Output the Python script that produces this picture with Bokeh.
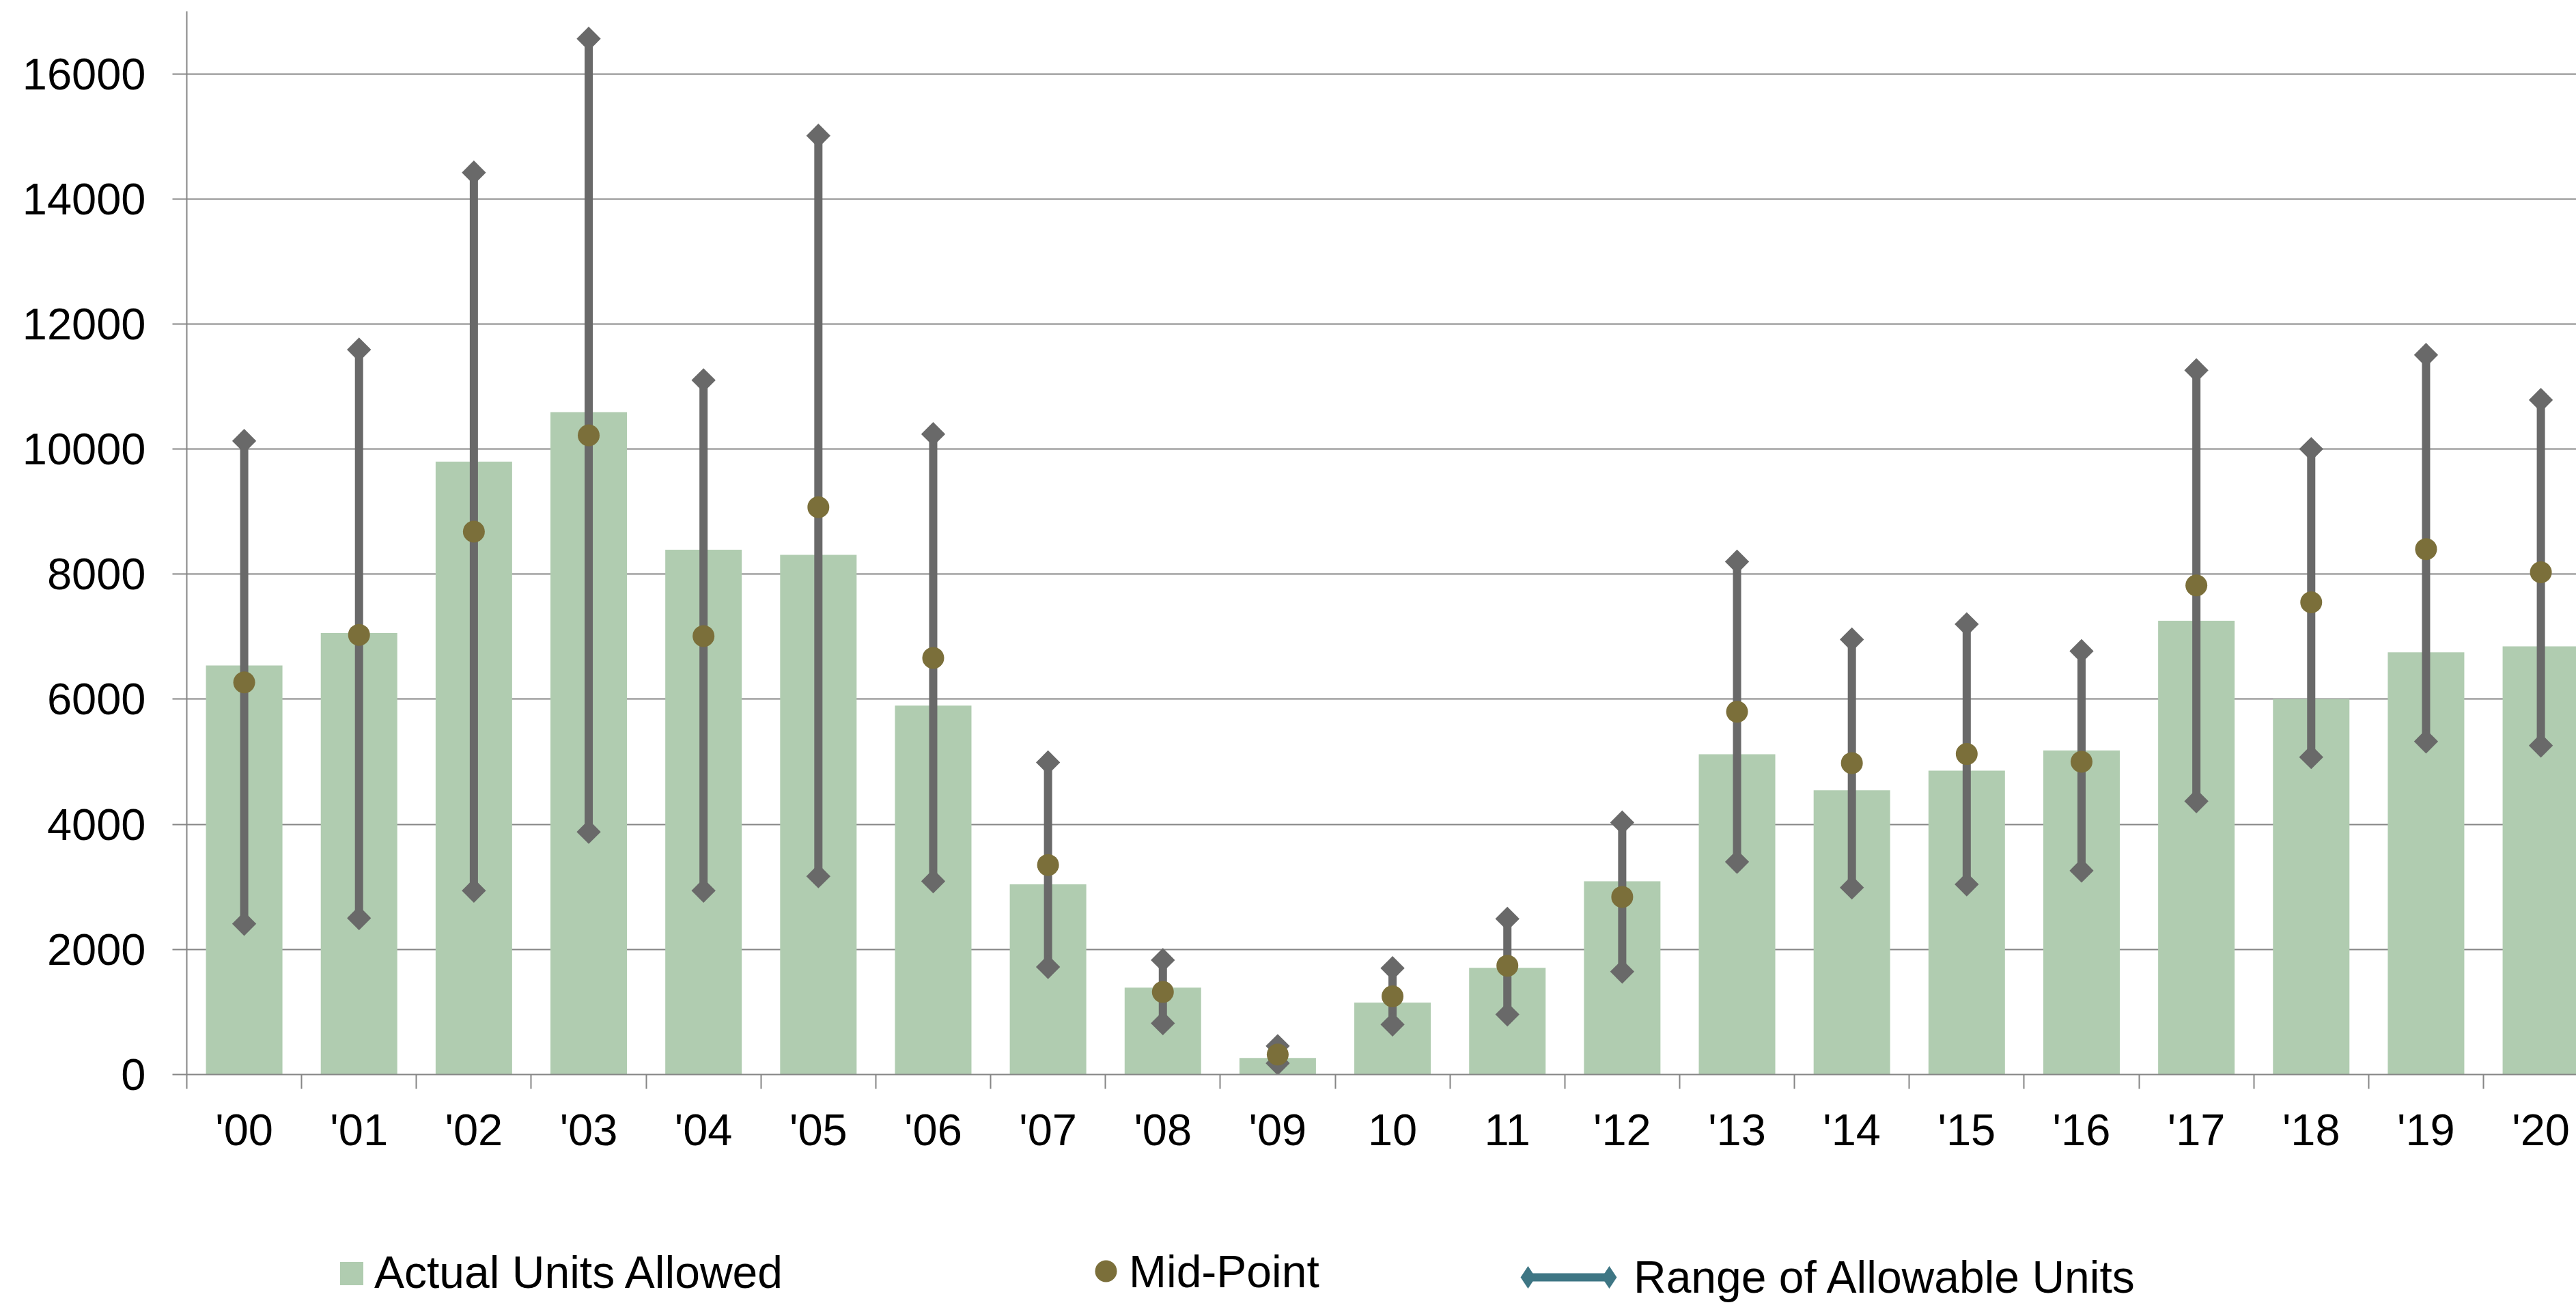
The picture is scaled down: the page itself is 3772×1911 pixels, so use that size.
import numpy as np
from bokeh.plotting import figure
from bokeh.layouts import column
from bokeh.models import Range1d, FixedTicker, Legend, LegendItem, ColumnDataSource
from bokeh.embed import file_html
from bokeh.resources import INLINE

# ---- data ----
years = ["'00", "'01", "'02", "'03", "'04", "'05", "'06", "'07", "'08", "'09", "10",
         "11", "'12", "'13", "'14", "'15", "'16", "'17", "'18", "'19", "'20"]
actual = [6540, 7060, 9800, 10590, 8390, 8310, 5900, 3040, 1390, 265, 1150,
          1705, 3090, 5120, 4545, 4860, 5180, 7255, 6005, 6750, 6845]
midpoint = [6270, 7030, 8680, 10220, 7010, 9070, 6660, 3350, 1320, 320, 1250,
            1740, 2840, 5800, 4980, 5125, 5000, 7820, 7550, 8400, 8030]
low = [2410, 2500, 2940, 3880, 2940, 3170, 3090, 1720, 820, 180, 800,
       960, 1645, 3400, 2990, 3040, 3260, 4370, 5075, 5325, 5260]
high = [10130, 11590, 14420, 16560, 11100, 15010, 10240, 4990, 1830, 455, 1700,
        2490, 4030, 8200, 6955, 7200, 6770, 11260, 10000, 11505, 10785]
y_ticks = [0, 2000, 4000, 6000, 8000, 10000, 12000, 14000, 16000]
y_max = 17000

GREEN = "#b0ccb0"
GRAY = "#696969"
OLIVE = "#7b6f3a"
TEAL = "#3e7684"
AXIS = "#868686"
FONT = "Liberation Sans"

xs = list(range(len(years)))
src = ColumnDataSource(dict(x=xs, actual=actual, mid=midpoint, low=low, high=high))

W = 3772
H_MAIN, H_LEG = 1720, 191
BL, BT = 273, 16
BB = H_MAIN - BT - 1557
frame_w = W - BL
cat_px = 168.15

p = figure(width=W, height=H_MAIN, output_backend="svg", toolbar_location=None,
           x_range=Range1d(-0.5, -0.5 + frame_w / cat_px), y_range=Range1d(0, y_max),
           min_border_left=BL, min_border_right=0, min_border_top=BT, min_border_bottom=BB)
p.outline_line_color = None
p.background_fill_color = "white"
p.border_fill_color = "white"

# grid
p.xgrid.visible = False
p.ygrid.ticker = FixedTicker(ticks=y_ticks[1:] + [y_max])
p.ygrid.grid_line_color = AXIS
p.ygrid.grid_line_width = 2

# y axis
p.yaxis.ticker = FixedTicker(ticks=y_ticks)
p.yaxis.axis_line_color = AXIS
p.yaxis.axis_line_width = 2
p.yaxis.major_tick_line_color = AXIS
p.yaxis.major_tick_line_width = 2
p.yaxis.major_tick_out = 21
p.yaxis.major_tick_in = 0
p.yaxis.minor_tick_line_color = None
p.yaxis.major_label_standoff = 39
p.yaxis.major_label_text_font = FONT
p.yaxis.major_label_text_font_size = "65px"
p.yaxis.major_label_text_color = "black"

# x axis: labels at category centres, tick marks at category boundaries
p.xaxis.ticker = FixedTicker(ticks=xs, minor_ticks=[i - 0.5 for i in range(len(years) + 1)])
p.xaxis.major_label_overrides = {i: years[i] for i in xs}
p.xaxis.axis_line_color = AXIS
p.xaxis.axis_line_width = 2
p.xaxis.major_tick_line_color = None
p.xaxis.major_tick_out = 0
p.xaxis.major_tick_in = 0
p.xaxis.minor_tick_line_color = AXIS
p.xaxis.minor_tick_line_width = 2
p.xaxis.minor_tick_out = 21
p.xaxis.minor_tick_in = 0
p.xaxis.major_label_standoff = 23
p.xaxis.major_label_text_font = FONT
p.xaxis.major_label_text_font_size = "65px"
p.xaxis.major_label_text_color = "black"

# glyphs
p.vbar(x="x", top="actual", width=112.0 / cat_px, bottom=0, source=src,
       fill_color=GREEN, line_color=None)
p.segment(x0="x", y0="low", x1="x", y1="high", source=src,
          line_color=GRAY, line_width=12)
p.scatter(x="x", y="low", source=src, marker="square", angle=np.pi / 4, size=25,
          fill_color=GRAY, line_color=None)
p.scatter(x="x", y="high", source=src, marker="square", angle=np.pi / 4, size=25,
          fill_color=GRAY, line_color=None)
p.scatter(x="x", y="mid", source=src, marker="circle", size=32,
          fill_color=OLIVE, line_color=None)

# ---- legend strip (separate figure below the chart) ----
q = figure(width=W, height=H_LEG, output_backend="svg", toolbar_location=None,
           x_range=Range1d(0, 1), y_range=Range1d(0, 1),
           x_axis_location=None, y_axis_location=None,
           min_border_left=BL, min_border_right=0, min_border_top=0, min_border_bottom=0)
q.outline_line_color = None
q.grid.visible = False
q.background_fill_color = "white"
q.border_fill_color = "white"


def offscreen():
    # one point outside the strip's ranges, so the key renderer has data but draws nothing
    return ColumnDataSource(dict(x=[-10], y=[-10]))


k_sq = q.scatter(x="x", y="y", source=offscreen(), marker="square", fill_color=GREEN, line_color=None)
k_ci = q.scatter(x="x", y="y", source=offscreen(), marker="circle", fill_color=OLIVE, line_color=None)
k_ln = q.line(x="x", y="y", source=offscreen(), line_color=TEAL, line_width=12)
k_di = q.scatter(x="x", y="y", source=offscreen(), marker="diamond", fill_color=TEAL, line_color=None)
k_no = q.scatter(x="x", y="y", source=offscreen(), marker="circle", fill_alpha=0, line_alpha=0)


def add_key(label, renderer, loc, gw, gh, standoff):
    lg = Legend(items=[LegendItem(label=label, renderers=[renderer])], location=loc,
                orientation="horizontal", glyph_width=gw, glyph_height=gh,
                label_standoff=standoff, label_height=10, padding=0, margin=0, spacing=0,
                border_line_color=None, background_fill_alpha=0,
                label_text_font=FONT, label_text_font_size="66px", label_text_color="black")
    q.add_layout(lg, "center")


# locations are relative to the strip's frame (left edge aligned with the chart's frame)
add_key("", k_sq, (199, 4.5), 85, 85, 0)
add_key("Actual Units Allowed", k_no, (275, 8), 0, 80, 0)
add_key("", k_ci, (1306, 10), 80, 80, 0)
add_key("Mid-Point", k_no, (1380, 9), 0, 80, 0)
add_key("Range of Allowable Units", k_ln, (1964, 1), 119, 80, 36)
add_key("", k_di, (1923, 0), 82, 82, 0)
add_key("", k_di, (2042, 0), 82, 82, 0)

layout = column(p, q, spacing=0)
open("out.html", "w").write(file_html(layout, INLINE))
